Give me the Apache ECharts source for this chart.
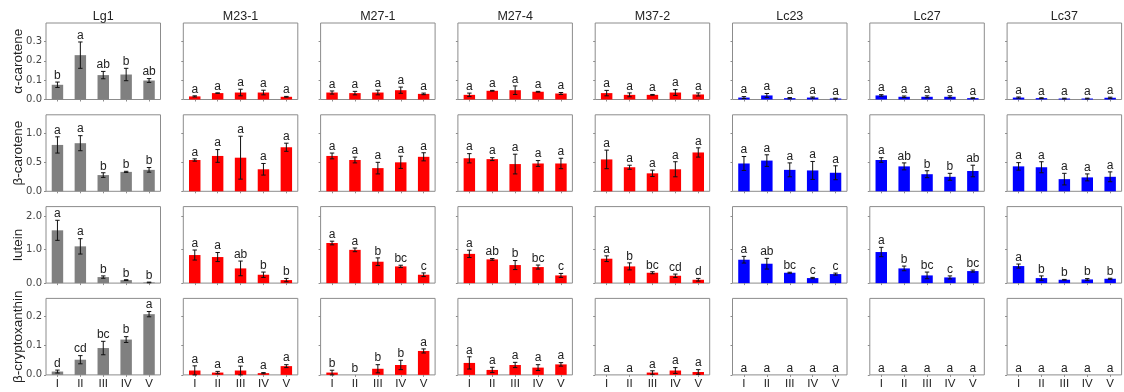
<!DOCTYPE html>
<html>
<head>
<meta charset="utf-8">
<script src="https://cdn.jsdelivr.net/npm/echarts@6/dist/echarts.min.js"></script>
<style>
  html, body { margin: 0; padding: 0; background: #fff; }
  #chart { width: 1124px; height: 392px; }
</style>
</head>
<body>
<div id="chart"></div>
<script>
// columns (lines) and rows (carotenoids)
const lines = ["Lg1", "M23-1", "M27-1", "M27-4", "M37-2", "Lc23", "Lc27", "Lc37"];
const lineColors = ["#808080", "#ff0000", "#ff0000", "#ff0000", "#ff0000", "#0000ff", "#0000ff", "#0000ff"];
const pigments = ["α-carotene", "β-carotene", "lutein", "β-cryptoxanthin"];
const stages = ["I", "II", "III", "IV", "V"];
const yMax = [0.395, 1.32, 2.29, 0.262];
const yTicks = [[0, 0.1, 0.2, 0.3], [0, 0.5, 1.0], [0, 1.0, 2.0], [0, 0.1, 0.2]];

const A5 = ["a", "a", "a", "a", "a"];

// α-carotene
const alphaMean = [
  [0.076, 0.229, 0.126, 0.129, 0.098],
  [0.016, 0.033, 0.036, 0.036, 0.014],
  [0.036, 0.033, 0.036, 0.048, 0.029],
  [0.024, 0.045, 0.048, 0.040, 0.031],
  [0.033, 0.024, 0.024, 0.036, 0.026],
  [0.010, 0.021, 0.007, 0.010, 0.005],
  [0.021, 0.014, 0.014, 0.014, 0.007],
  [0.010, 0.007, 0.005, 0.005, 0.009],
];
const alphaErr = [
  [0.014, 0.068, 0.019, 0.032, 0.010],
  [0.003, 0.001, 0.017, 0.012, 0.002],
  [0.008, 0.009, 0.012, 0.016, 0.004],
  [0.009, 0.002, 0.022, 0.002, 0.005],
  [0.014, 0.010, 0.002, 0.015, 0.008],
  [0.005, 0.010, 0.003, 0.003, 0.002],
  [0.004, 0.004, 0.005, 0.005, 0.002],
  [0.003, 0.002, 0.002, 0.002, 0.003],
];
const alphaSig = [["b", "a", "ab", "b", "ab"], A5, A5, A5, A5, A5, A5, A5];

// β-carotene
const betaMean = [
  [0.80, 0.83, 0.28, 0.335, 0.37],
  [0.54, 0.61, 0.58, 0.38, 0.76],
  [0.61, 0.54, 0.40, 0.50, 0.595],
  [0.57, 0.555, 0.47, 0.48, 0.48],
  [0.55, 0.415, 0.31, 0.38, 0.67],
  [0.48, 0.53, 0.37, 0.36, 0.32],
  [0.54, 0.43, 0.295, 0.25, 0.35],
  [0.43, 0.415, 0.21, 0.24, 0.25],
];
const betaErr = [
  [0.14, 0.13, 0.04, 0.01, 0.04],
  [0.02, 0.11, 0.37, 0.10, 0.07],
  [0.05, 0.05, 0.10, 0.105, 0.07],
  [0.08, 0.025, 0.17, 0.05, 0.09],
  [0.16, 0.035, 0.055, 0.13, 0.08],
  [0.12, 0.10, 0.12, 0.155, 0.12],
  [0.04, 0.06, 0.06, 0.06, 0.10],
  [0.065, 0.095, 0.10, 0.06, 0.085],
];
const betaSig = [["a", "a", "b", "b", "b"], A5, A5, A5, A5, A5, ["a", "ab", "b", "b", "ab"], A5];

// lutein
const luteinMean = [
  [1.58, 1.10, 0.18, 0.09, 0.02],
  [0.84, 0.78, 0.44, 0.25, 0.09],
  [1.20, 0.995, 0.64, 0.50, 0.25],
  [0.875, 0.71, 0.54, 0.48, 0.23],
  [0.73, 0.50, 0.31, 0.22, 0.10],
  [0.70, 0.58, 0.31, 0.15, 0.27],
  [0.93, 0.44, 0.23, 0.17, 0.36],
  [0.51, 0.15, 0.10, 0.11, 0.13],
];
const luteinErr = [
  [0.30, 0.23, 0.035, 0.012, 0.01],
  [0.15, 0.135, 0.22, 0.08, 0.05],
  [0.055, 0.055, 0.115, 0.035, 0.055],
  [0.11, 0.025, 0.135, 0.06, 0.06],
  [0.085, 0.105, 0.03, 0.05, 0.04],
  [0.10, 0.16, 0.015, 0.02, 0.03],
  [0.14, 0.07, 0.10, 0.045, 0.03],
  [0.06, 0.065, 0.01, 0.025, 0.015],
];
const luteinSig = [
  ["a", "a", "b", "b", "b"],
  ["a", "a", "ab", "b", "b"],
  ["a", "a", "b", "bc", "c"],
  ["a", "ab", "b", "bc", "c"],
  ["a", "b", "bc", "cd", "d"],
  ["a", "ab", "bc", "c", "c"],
  ["a", "b", "bc", "c", "bc"],
  ["a", "b", "b", "b", "b"],
];

// β-cryptoxanthin
const cryptoMean = [
  [0.0115, 0.052, 0.092, 0.121, 0.208],
  [0.015, 0.008, 0.015, 0.006, 0.030],
  [0.008, 0, 0.021, 0.034, 0.082],
  [0.041, 0.017, 0.034, 0.025, 0.036],
  [0, 0, 0.008, 0.015, 0.010],
  [0, 0, 0, 0, 0],
  [0, 0, 0, 0, 0],
  [0, 0, 0, 0, 0],
];
const cryptoErr = [
  [0.005, 0.014, 0.023, 0.010, 0.009],
  [0.016, 0.004, 0.015, 0.002, 0.005],
  [0.008, 0, 0.014, 0.016, 0.007],
  [0.021, 0.009, 0.009, 0.010, 0.006],
  [0, 0, 0.006, 0.010, 0.008],
  [0, 0, 0, 0, 0],
  [0, 0, 0, 0, 0],
  [0, 0, 0, 0, 0],
];
const cryptoSig = [["d", "cd", "bc", "b", "a"], A5, ["b", "b", "b", "b", "a"], A5, A5, A5, A5, A5];

const means = [alphaMean, betaMean, luteinMean, cryptoMean];
const errs = [alphaErr, betaErr, luteinErr, cryptoErr];
const sigs = [alphaSig, betaSig, luteinSig, cryptoSig];

const SANS = "'Liberation Sans', Arial, sans-serif";
const FRAME = "#8c8c8c";
const colLeft = (c) => 46 + c * 137.3;
const rowTop = (r) => 23 + r * 91.8;
const W = 114.5, H = 76.5;

const grid = [], xAxis = [], yAxis = [], series = [], graphic = [];

pigments.forEach((name, r) => {
  graphic.push({
    type: "text", x: 18.5, y: rowTop(r) + H / 2, rotation: Math.PI / 2,
    style: { text: name, fontFamily: SANS, fontSize: 13.5, fill: "#222", textAlign: "center", textVerticalAlign: "middle" },
  });
  lines.forEach((line, c) => {
    const k = grid.length;
    grid.push({
      left: colLeft(c), top: rowTop(r), width: W, height: H,
      show: true, borderColor: FRAME, borderWidth: 1, backgroundColor: "transparent",
    });
    xAxis.push({
      type: "category", gridIndex: k, data: stages,
      axisLine: { show: false },
      axisTick: { show: true, alignWithLabel: true, length: 2, lineStyle: { color: FRAME } },
      axisLabel: { show: r === pigments.length - 1, margin: 3, fontFamily: SANS, fontSize: 11.5, color: "#222" },
      splitLine: { show: false },
    });
    yAxis.push({
      type: "value", gridIndex: k, min: 0, max: yMax[r],
      axisLine: { show: false },
      axisTick: { show: true, length: 2, customValues: yTicks[r], lineStyle: { color: FRAME } },
      axisLabel: {
        show: c === 0, customValues: yTicks[r], margin: 4,
        fontFamily: "'DejaVu Sans', sans-serif", fontSize: 10, color: "#444",
        formatter: (v) => v.toFixed(1),
      },
      splitLine: { show: false },
    });
    const m = means[r][c], e = errs[r][c], s = sigs[r][c];
    series.push({
      type: "bar", xAxisIndex: k, yAxisIndex: k, data: m, barWidth: "50%",
      itemStyle: { color: lineColors[c] }, silent: true,
    });
    series.push({
      type: "custom", xAxisIndex: k, yAxisIndex: k, z: 3, silent: true,
      data: m.map((v, i) => [i, v, e[i]]),
      renderItem: (params, api) => {
        const i = api.value(0), v = api.value(1), d = api.value(2);
        const top = api.coord([i, v + d]);
        const bot = api.coord([i, Math.max(0, v - d)]);
        const x = top[0], cap = 2.2;
        const children = [];
        if (d > 0) {
          const ls = { stroke: "#111", lineWidth: 1 };
          children.push({ type: "line", shape: { x1: x, y1: top[1], x2: x, y2: bot[1] }, style: ls });
          children.push({ type: "line", shape: { x1: x - cap, y1: top[1], x2: x + cap, y2: top[1] }, style: ls });
          children.push({ type: "line", shape: { x1: x - cap, y1: bot[1], x2: x + cap, y2: bot[1] }, style: ls });
        }
        children.push({
          type: "text", x: x, y: top[1] - 0.5,
          style: { text: s[i], fontFamily: SANS, fontSize: 12, fill: "#222", textAlign: "center", textVerticalAlign: "bottom" },
        });
        return { type: "group", children };
      },
    });
  });
});

lines.forEach((line, c) => {
  graphic.push({
    type: "text", x: colLeft(c) + W / 2, y: 16.5,
    style: { text: line, fontFamily: SANS, fontSize: 12.5, fill: "#222", textAlign: "center", textVerticalAlign: "middle" },
  });
});

const chart = echarts.init(document.getElementById("chart"), null, { renderer: "canvas" });
chart.setOption({
  backgroundColor: "#fff",
  animation: false,
  grid, xAxis, yAxis, series, graphic,
});
</script>
</body>
</html>
